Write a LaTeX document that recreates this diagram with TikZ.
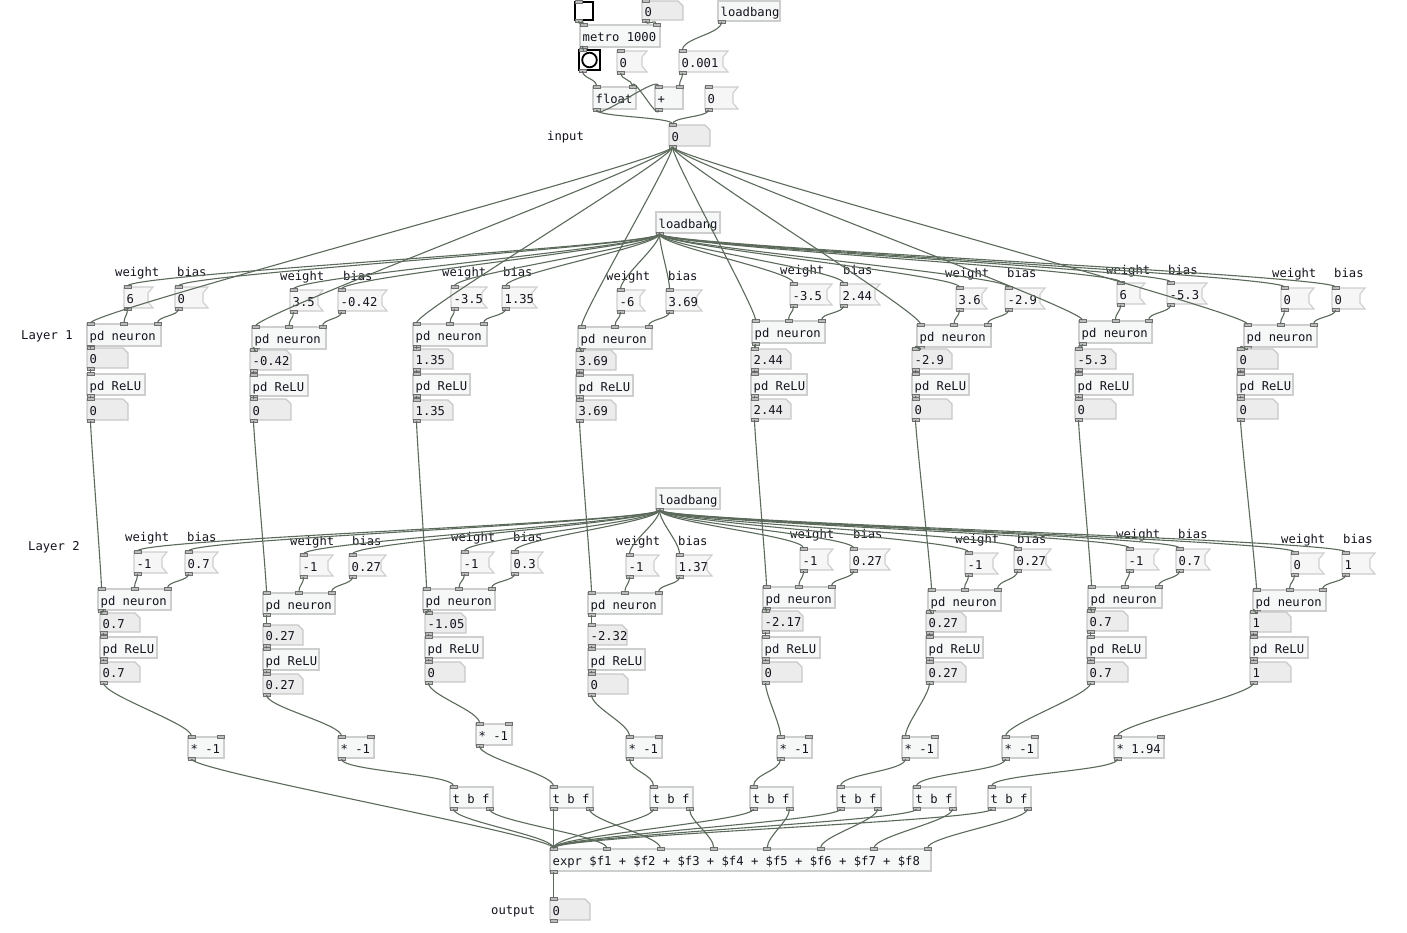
\documentclass[tikz,border=0pt]{standalone}
\usepackage{fontspec}
\newfontfamily\pdmono{DejaVu Sans Mono}
\usetikzlibrary{calc}
\definecolor{cordc}{RGB}{92,106,92}
\definecolor{objfill}{RGB}{246,248,248}
\definecolor{objline}{RGB}{206,206,206}
\definecolor{numfill}{RGB}{236,236,236}
\definecolor{numline}{RGB}{200,200,200}
\definecolor{msgfill}{RGB}{246,246,246}
\definecolor{iofill}{RGB}{188,188,188}
\definecolor{ioline}{RGB}{112,112,112}
\definecolor{txt}{RGB}{20,20,30}
\tikzset{
  objframe/.style={fill=objfill, draw=objline, line width=1.1pt},
  msgframe/.style={fill=msgfill, draw=objline, line width=1.1pt, line join=miter},
  numframe/.style={fill=numfill, draw=numline, line width=1.1pt},
  guiframe/.style={fill=white, draw=black, line width=1.8pt},
  io/.style={fill=iofill, draw=ioline, line width=0.6pt},
  pdtext/.style={anchor=north west, inner sep=0pt, text height=11.5pt, text depth=0.5pt,
     font=\pdmono\fontsize{12.2}{14}\selectfont, text=txt},
  lbl/.style={anchor=base west, inner sep=0pt, font=\pdmono\fontsize{12.2}{14}\selectfont, text=txt},
  cordst/.style={draw=cordc, line width=1.1pt},
}
\newcommand\pdshapeobj[4]{\path[objframe] (#1,#2) rectangle ++(#3,#4);}
\newcommand\pdshapenum[4]{\path[numframe] (#1,#2) -- ++(#3-5,0) -- ++(5,5) -- ++(0,#4-5) -- ++(-#3,0) -- cycle;}
\newcommand\pdshapemsg[4]{\path[msgframe] (#1,#2) -- ++(#3,0) -- ++(-5,6) -- ++(0,#4-12) -- ++(5,6) -- ++(-#3,0) -- cycle;}
\newcommand\pdshapetgl[4]{\path[guiframe] (#1,#2) rectangle ++(#3,#4);}
\newcommand\pdshapebng[4]{\path[guiframe] (#1,#2) rectangle ++(#3,#4);
  \draw[black, line width=1.8pt] ({#1+#3/2},{#2+#4/2}) circle (7.3pt);}
\newcommand\pdio[7]{%
  \ifnum#6>0
    \foreach \k in {1,...,#6}{%
      \pgfmathsetmacro\pdx{#2+(#4-7)*(\k-1)/max(#6-1,1)}%
      \path[io] (\pdx,#3-2) rectangle ++(7,3);
      \coordinate (#1-i\k) at (\pdx+3.5,#3-1);
    }%
  \fi
  \ifnum#7>0
    \foreach \k in {1,...,#7}{%
      \pgfmathsetmacro\pdx{#2+(#4-7)*(\k-1)/max(#7-1,1)}%
      \path[io] (\pdx,#3+#5-1) rectangle ++(7,3);
      \coordinate (#1-o\k) at (\pdx+3.5,#3+#5+1);
    }%
  \fi
}
\newcommand\pdbox[9]{%
  \csname pdshape#1\endcsname{#3}{#4}{#5}{#6}%
  \node[pdtext, minimum width=#5pt, minimum height=#6pt] (#2) at (#3,#4) {\hbox to #5pt{\hskip2.5pt #7\hfil}};%
  \pdio{#2}{#3}{#4}{#5}{#6}{#8}{#9}%
}
\newcommand\cord[2]{\draw[cordst] let \p1=(#1), \p2=(#2), \n1={min(max(abs(\y2-\y1)*0.5,6pt),12pt)} in
  (\p1) .. controls (\x1,{\y1-\n1}) and (\x2,{\y2+\n1}) .. (\p2);}

\begin{document}
\begin{tikzpicture}[x=1pt,y=-1pt]
\fill[white] (0,0) rectangle (1407,932);
\useasboundingbox (0,0) rectangle (1407,932);

% ---------- top counter ----------
\pdbox{tgl}{TG}{575}{2}{18}{18}{}{1}{1}
\pdbox{num}{N0}{642}{1}{41}{19}{0}{1}{1}
\pdbox{obj}{LB0}{718}{1}{62}{20}{loadbang}{0}{1}
\pdbox{obj}{MT}{580}{25}{80}{22}{metro 1000}{2}{1}
\pdbox{bng}{BG}{579}{50}{21}{20}{}{1}{1}
\pdbox{msg}{MA}{617}{51}{30}{21}{0}{1}{1}
\pdbox{msg}{MB}{679}{51}{49}{21}{0.001}{1}{1}
\pdbox{obj}{FL}{593}{87}{43}{22}{float}{2}{1}
\pdbox{obj}{PL}{655}{87}{28}{22}{+}{2}{1}
\pdbox{msg}{MC}{705}{87}{33}{22}{0}{1}{1}
\pdbox{num}{IN}{669}{125}{41}{21}{0}{1}{1}
\node[lbl] (inputlbl) at (547,140) {input};

% ---------- layer 1 ----------
\pdbox{obj}{LB1}{656}{212}{64}{21}{loadbang}{0}{1}
\node[lbl] (layer1) at (21,339) {Layer 1};

\node[lbl] (aw1) at (115,276) {weight}; \node[lbl] (ab1) at (177,276) {bias};
\pdbox{msg}{aW1}{124}{287}{29}{21}{6}{1}{1}
\pdbox{msg}{aB1}{175}{287}{33}{21}{0}{1}{1}
\pdbox{obj}{aN1}{87}{324}{74}{22}{pd neuron}{3}{1}
\pdbox{num}{aR1}{87}{348}{41}{20}{0}{1}{1}
\pdbox{obj}{aL1}{87}{374}{58}{21}{pd ReLU}{1}{1}
\pdbox{num}{aO1}{87}{399}{41}{21}{0}{1}{1}

\node[lbl] (aw2) at (280,280) {weight}; \node[lbl] (ab2) at (343,280) {bias};
\pdbox{msg}{aW2}{290}{290}{33}{21}{3.5}{1}{1}
\pdbox{msg}{aB2}{338}{290}{49}{21}{-0.42}{1}{1}
\pdbox{obj}{aN2}{252}{327}{74}{22}{pd neuron}{3}{1}
\pdbox{num}{aR2}{250}{350}{41}{20}{-0.42}{1}{1}
\pdbox{obj}{aL2}{250}{375}{58}{21}{pd ReLU}{1}{1}
\pdbox{num}{aO2}{250}{399}{41}{21}{0}{1}{1}

\node[lbl] (aw3) at (442,276) {weight}; \node[lbl] (ab3) at (503,276) {bias};
\pdbox{msg}{aW3}{451}{287}{36}{21}{-3.5}{1}{1}
\pdbox{msg}{aB3}{502}{287}{35}{21}{1.35}{1}{1}
\pdbox{obj}{aN3}{413}{324}{74}{22}{pd neuron}{3}{1}
\pdbox{num}{aR3}{413}{349}{40}{20}{1.35}{1}{1}
\pdbox{obj}{aL3}{413}{374}{57}{21}{pd ReLU}{1}{1}
\pdbox{num}{aO3}{413}{400}{40}{20}{1.35}{1}{1}

\node[lbl] (aw4) at (606,280) {weight}; \node[lbl] (ab4) at (668,280) {bias};
\pdbox{msg}{aW4}{617}{290}{28}{21}{-6}{1}{1}
\pdbox{msg}{aB4}{666}{290}{36}{21}{3.69}{1}{1}
\pdbox{obj}{aN4}{578}{327}{74}{22}{pd neuron}{3}{1}
\pdbox{num}{aR4}{576}{350}{40}{20}{3.69}{1}{1}
\pdbox{obj}{aL4}{576}{375}{57}{21}{pd ReLU}{1}{1}
\pdbox{num}{aO4}{576}{400}{40}{20}{3.69}{1}{1}

\node[lbl] (aw5) at (780,274) {weight}; \node[lbl] (ab5) at (843,274) {bias};
\pdbox{msg}{aW5}{790}{284}{42}{21}{-3.5}{1}{1}
\pdbox{msg}{aB5}{840}{284}{40}{21}{2.44}{1}{1}
\pdbox{obj}{aN5}{752}{321}{73}{22}{pd neuron}{3}{1}
\pdbox{num}{aR5}{751}{349}{40}{20}{2.44}{1}{1}
\pdbox{obj}{aL5}{751}{374}{56}{21}{pd ReLU}{1}{1}
\pdbox{num}{aO5}{751}{399}{40}{20}{2.44}{1}{1}

\node[lbl] (aw6) at (945,277) {weight}; \node[lbl] (ab6) at (1007,277) {bias};
\pdbox{msg}{aW6}{956}{288}{31}{21}{3.6}{1}{1}
\pdbox{msg}{aB6}{1005}{288}{40}{21}{-2.9}{1}{1}
\pdbox{obj}{aN6}{917}{325}{74}{22}{pd neuron}{3}{1}
\pdbox{num}{aR6}{912}{349}{40}{20}{-2.9}{1}{1}
\pdbox{obj}{aL6}{912}{374}{57}{21}{pd ReLU}{1}{1}
\pdbox{num}{aO6}{912}{399}{40}{20}{0}{1}{1}

\node[lbl] (aw7) at (1106,274) {weight}; \node[lbl] (ab7) at (1168,274) {bias};
\pdbox{msg}{aW7}{1117}{283}{28}{21}{6}{1}{1}
\pdbox{msg}{aB7}{1167}{283}{40}{21}{-5.3}{1}{1}
\pdbox{obj}{aN7}{1079}{321}{73}{22}{pd neuron}{3}{1}
\pdbox{num}{aR7}{1075}{349}{41}{20}{-5.3}{1}{1}
\pdbox{obj}{aL7}{1075}{374}{58}{21}{pd ReLU}{1}{1}
\pdbox{num}{aO7}{1075}{399}{41}{20}{0}{1}{1}

\node[lbl] (aw8) at (1272,277) {weight}; \node[lbl] (ab8) at (1334,277) {bias};
\pdbox{msg}{aW8}{1281}{288}{33}{21}{0}{1}{1}
\pdbox{msg}{aB8}{1332}{288}{33}{21}{0}{1}{1}
\pdbox{obj}{aN8}{1244}{325}{73}{22}{pd neuron}{3}{1}
\pdbox{num}{aR8}{1237}{349}{41}{20}{0}{1}{1}
\pdbox{obj}{aL8}{1237}{374}{56}{21}{pd ReLU}{1}{1}
\pdbox{num}{aO8}{1237}{399}{41}{20}{0}{1}{1}

% ---------- layer 2 ----------
\pdbox{obj}{LB2}{656}{488}{64}{21}{loadbang}{0}{1}
\node[lbl] (layer2) at (28,550) {Layer 2};

\node[lbl] (bw1) at (125,541) {weight}; \node[lbl] (bb1) at (187,541) {bias};
\pdbox{msg}{bW1}{134}{552}{33}{21}{-1}{1}{1}
\pdbox{msg}{bB1}{185}{552}{33}{21}{0.7}{1}{1}
\pdbox{obj}{bN1}{98}{589}{73}{21}{pd neuron}{3}{1}
\pdbox{num}{bR1}{100}{613}{40}{19}{0.7}{1}{1}
\pdbox{obj}{bL1}{100}{637}{57}{21}{pd ReLU}{1}{1}
\pdbox{num}{bO1}{100}{662}{40}{20}{0.7}{1}{1}

\node[lbl] (bw2) at (290,545) {weight}; \node[lbl] (bb2) at (352,545) {bias};
\pdbox{msg}{bW2}{300}{555}{33}{21}{-1}{1}{1}
\pdbox{msg}{bB2}{349}{555}{37}{21}{0.27}{1}{1}
\pdbox{obj}{bN2}{263}{593}{72}{21}{pd neuron}{3}{1}
\pdbox{num}{bR2}{263}{625}{40}{20}{0.27}{1}{1}
\pdbox{obj}{bL2}{263}{649}{56}{21}{pd ReLU}{1}{1}
\pdbox{num}{bO2}{263}{674}{40}{20}{0.27}{1}{1}

\node[lbl] (bw3) at (451,541) {weight}; \node[lbl] (bb3) at (513,541) {bias};
\pdbox{msg}{bW3}{461}{552}{33}{21}{-1}{1}{1}
\pdbox{msg}{bB3}{511}{552}{32}{21}{0.3}{1}{1}
\pdbox{obj}{bN3}{423}{589}{72}{21}{pd neuron}{3}{1}
\pdbox{num}{bR3}{425}{613}{41}{20}{-1.05}{1}{1}
\pdbox{obj}{bL3}{425}{637}{58}{21}{pd ReLU}{1}{1}
\pdbox{num}{bO3}{425}{662}{40}{20}{0}{1}{1}

\node[lbl] (bw4) at (616,545) {weight}; \node[lbl] (bb4) at (678,545) {bias};
\pdbox{msg}{bW4}{626}{555}{33}{21}{-1}{1}{1}
\pdbox{msg}{bB4}{676}{555}{36}{21}{1.37}{1}{1}
\pdbox{obj}{bN4}{588}{593}{74}{21}{pd neuron}{3}{1}
\pdbox{num}{bR4}{588}{625}{39}{20}{-2.32}{1}{1}
\pdbox{obj}{bL4}{588}{649}{57}{21}{pd ReLU}{1}{1}
\pdbox{num}{bO4}{588}{674}{40}{20}{0}{1}{1}

\node[lbl] (bw5) at (790,538) {weight}; \node[lbl] (bb5) at (853,538) {bias};
\pdbox{msg}{bW5}{800}{549}{33}{21}{-1}{1}{1}
\pdbox{msg}{bB5}{850}{549}{40}{21}{0.27}{1}{1}
\pdbox{obj}{bN5}{763}{587}{72}{21}{pd neuron}{3}{1}
\pdbox{num}{bR5}{762}{611}{41}{20}{-2.17}{1}{1}
\pdbox{obj}{bL5}{762}{637}{58}{21}{pd ReLU}{1}{1}
\pdbox{num}{bO5}{762}{662}{40}{20}{0}{1}{1}

\node[lbl] (bw6) at (955,543) {weight}; \node[lbl] (bb6) at (1017,543) {bias};
\pdbox{msg}{bW6}{965}{553}{33}{21}{-1}{1}{1}
\pdbox{msg}{bB6}{1014}{549}{37}{21}{0.27}{1}{1}
\pdbox{obj}{bN6}{928}{590}{73}{21}{pd neuron}{3}{1}
\pdbox{num}{bR6}{926}{612}{40}{20}{0.27}{1}{1}
\pdbox{obj}{bL6}{926}{637}{57}{21}{pd ReLU}{1}{1}
\pdbox{num}{bO6}{926}{662}{40}{20}{0.27}{1}{1}

\node[lbl] (bw7) at (1116,538) {weight}; \node[lbl] (bb7) at (1178,538) {bias};
\pdbox{msg}{bW7}{1126}{549}{33}{21}{-1}{1}{1}
\pdbox{msg}{bB7}{1176}{549}{34}{21}{0.7}{1}{1}
\pdbox{obj}{bN7}{1088}{587}{74}{21}{pd neuron}{3}{1}
\pdbox{num}{bR7}{1087}{611}{41}{20}{0.7}{1}{1}
\pdbox{obj}{bL7}{1087}{637}{59}{21}{pd ReLU}{1}{1}
\pdbox{num}{bO7}{1087}{662}{41}{20}{0.7}{1}{1}

\node[lbl] (bw8) at (1281,543) {weight}; \node[lbl] (bb8) at (1343,543) {bias};
\pdbox{msg}{bW8}{1291}{553}{33}{21}{0}{1}{1}
\pdbox{msg}{bB8}{1342}{553}{33}{21}{1}{1}{1}
\pdbox{obj}{bN8}{1253}{590}{73}{21}{pd neuron}{3}{1}
\pdbox{num}{bR8}{1250}{612}{41}{20}{1}{1}{1}
\pdbox{obj}{bL8}{1250}{637}{58}{21}{pd ReLU}{1}{1}
\pdbox{num}{bO8}{1250}{662}{41}{20}{1}{1}{1}

% ---------- output stage ----------
\pdbox{obj}{X1}{188}{737}{36}{21}{* -1}{2}{1}
\pdbox{obj}{X2}{338}{737}{36}{21}{* -1}{2}{1}
\pdbox{obj}{X3}{476}{724}{36}{21}{* -1}{2}{1}
\pdbox{obj}{X4}{626}{737}{36}{21}{* -1}{2}{1}
\pdbox{obj}{X5}{777}{737}{35}{21}{* -1}{2}{1}
\pdbox{obj}{X6}{902}{737}{36}{21}{* -1}{2}{1}
\pdbox{obj}{X7}{1002}{737}{36}{21}{* -1}{2}{1}
\pdbox{obj}{X8}{1114}{737}{50}{21}{* 1.94}{2}{1}

\pdbox{obj}{T1}{450}{787}{43}{21}{t b f}{1}{2}
\pdbox{obj}{T2}{550}{787}{43}{21}{t b f}{1}{2}
\pdbox{obj}{T3}{650}{787}{43}{21}{t b f}{1}{2}
\pdbox{obj}{T4}{750}{787}{43}{21}{t b f}{1}{2}
\pdbox{obj}{T5}{837}{787}{44}{21}{t b f}{1}{2}
\pdbox{obj}{T6}{913}{787}{43}{21}{t b f}{1}{2}
\pdbox{obj}{T7}{988}{787}{43}{21}{t b f}{1}{2}

\pdbox{obj}{EX}{550}{849}{381}{22}{expr \$f1 + \$f2 + \$f3 + \$f4 + \$f5 + \$f6 + \$f7 + \$f8}{8}{1}
\pdbox{num}{OUT}{550}{899}{40}{21}{0}{1}{1}
\node[lbl] (outputlbl) at (491,914) {output};

% ---------- cords ----------
\cord{TG-o1}{MT-i1}
\cord{N0-o1}{MT-i2}
\cord{MT-o1}{BG-i1}
\cord{BG-o1}{FL-i1}
\cord{MA-o1}{FL-i2}
\cord{FL-o1}{PL-i1}
\cord{PL-o1}{FL-i2}
\cord{LB0-o1}{MB-i1}
\cord{MB-o1}{PL-i2}
\cord{FL-o1}{IN-i1}
\cord{MC-o1}{IN-i1}

\foreach \c in {1,...,8}{
  \cord{LB1-o1}{aW\c-i1}
  \cord{LB1-o1}{aB\c-i1}
  \cord{IN-o1}{aN\c-i1}
  \cord{aW\c-o1}{aN\c-i2}
  \cord{aB\c-o1}{aN\c-i3}
  \cord{aN\c-o1}{aR\c-i1}
  \cord{aR\c-o1}{aL\c-i1}
  \cord{aL\c-o1}{aO\c-i1}
  \cord{aO\c-o1}{bN\c-i1}
  \cord{LB2-o1}{bW\c-i1}
  \cord{LB2-o1}{bB\c-i1}
  \cord{bW\c-o1}{bN\c-i2}
  \cord{bB\c-o1}{bN\c-i3}
  \cord{bN\c-o1}{bR\c-i1}
  \cord{bR\c-o1}{bL\c-i1}
  \cord{bL\c-o1}{bO\c-i1}
  \cord{bO\c-o1}{X\c-i1}
}
\cord{X1-o1}{EX-i1}
\foreach \k in {1,...,7}{
  \pgfmathtruncatemacro\kk{\k+1}
  \cord{X\kk-o1}{T\k-i1}
  \cord{T\k-o1}{EX-i1}
  \cord{T\k-o2}{EX-i\kk}
}
\cord{EX-o1}{OUT-i1}
\end{tikzpicture}
\end{document}
